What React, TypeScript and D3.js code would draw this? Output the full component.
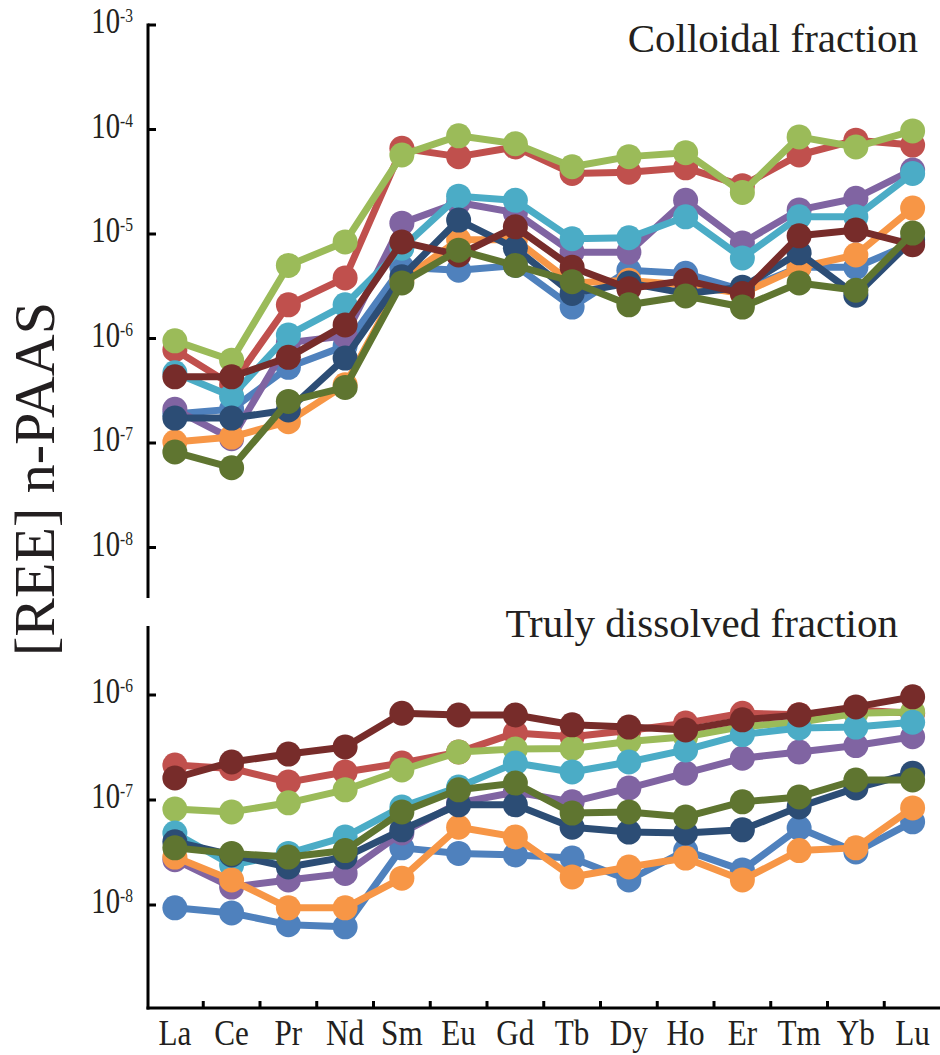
import React from "react";
import * as d3 from "d3";

// rare earth elements on the x axis
const elements = ["La", "Ce", "Pr", "Nd", "Sm", "Eu", "Gd", "Tb", "Dy", "Ho", "Er", "Tm", "Yb", "Lu"];

// colloidal fraction (top panel), PAAS-normalised
const colBlue = [1.9e-7, 2.1e-7, 5.3e-7, 8.5e-7, 4.8e-6, 4.5e-6, 5.0e-6, 2.0e-6, 4.5e-6, 4.2e-6, 2.9e-6, 4.8e-6, 4.8e-6, 8.2e-6];
const colRed = [7.8e-7, 3.6e-7, 2.1e-6, 3.8e-6, 6.6e-5, 5.5e-5, 6.8e-5, 3.8e-5, 3.9e-5, 4.3e-5, 2.9e-5, 5.7e-5, 7.9e-5, 7.1e-5];
const colGreen = [9.5e-7, 6.2e-7, 5.0e-6, 8.4e-6, 5.7e-5, 8.7e-5, 7.3e-5, 4.4e-5, 5.5e-5, 6.0e-5, 2.5e-5, 8.5e-5, 6.8e-5, 9.7e-5];
const colPurple = [2.1e-7, 1.1e-7, 9.1e-7, 1.06e-6, 1.27e-5, 2.0e-5, 1.6e-5, 6.7e-6, 6.7e-6, 2.1e-5, 8.2e-6, 1.7e-5, 2.2e-5, 4.1e-5];
const colCyan = [4.7e-7, 2.8e-7, 1.08e-6, 2.1e-6, 7.3e-6, 2.3e-5, 2.1e-5, 9.0e-6, 9.2e-6, 1.46e-5, 5.9e-6, 1.46e-5, 1.46e-5, 3.8e-5];
const colOrange = [1.02e-7, 1.14e-7, 1.6e-7, 3.6e-7, 3.6e-6, 8.8e-6, 8.8e-6, 3.4e-6, 3.6e-6, 3.25e-6, 2.7e-6, 4.8e-6, 6.3e-6, 1.77e-5];
const colNavy = [1.73e-7, 1.73e-7, 2.07e-7, 6.5e-7, 3.9e-6, 1.36e-5, 7.3e-6, 2.7e-6, 3.4e-6, 2.7e-6, 3.1e-6, 6.6e-6, 2.6e-6, 8.8e-6];
const colDarkRed = [4.3e-7, 4.3e-7, 6.6e-7, 1.35e-6, 8.4e-6, 6.3e-6, 1.17e-5, 4.8e-6, 3.0e-6, 3.6e-6, 2.7e-6, 9.6e-6, 1.09e-5, 7.9e-6];
const colDarkGreen = [8.2e-8, 5.8e-8, 2.5e-7, 3.4e-7, 3.4e-6, 7.0e-6, 5.0e-6, 3.5e-6, 2.1e-6, 2.55e-6, 2.0e-6, 3.4e-6, 2.9e-6, 1.02e-5];

// truly dissolved fraction (bottom panel)
const disBlue = [9.4e-9, 8.4e-9, 6.5e-9, 6.2e-9, 3.5e-8, 3.1e-8, 3.0e-8, 2.8e-8, 1.73e-8, 3.3e-8, 2.15e-8, 5.4e-8, 3.2e-8, 6.2e-8];
const disRed = [2.15e-7, 2.0e-7, 1.48e-7, 1.85e-7, 2.25e-7, 2.86e-7, 4.35e-7, 4.0e-7, 4.6e-7, 5.4e-7, 6.7e-7, 6.5e-7, 7.2e-7, 6.7e-7];
const disGreen = [8.2e-8, 7.7e-8, 9.4e-8, 1.25e-7, 1.93e-7, 2.86e-7, 3.06e-7, 3.1e-7, 3.6e-7, 4.0e-7, 5.0e-7, 5.5e-7, 6.7e-7, 6.9e-7];
const disPurple = [2.7e-8, 1.48e-8, 1.73e-8, 2.0e-8, 4.85e-8, 9.4e-8, 1.19e-7, 9.6e-8, 1.3e-7, 1.8e-7, 2.5e-7, 2.86e-7, 3.3e-7, 4.0e-7];
const disCyan = [4.85e-8, 2.4e-8, 3.1e-8, 4.45e-8, 8.6e-8, 1.33e-7, 2.25e-7, 1.85e-7, 2.3e-7, 3.0e-7, 4.2e-7, 4.85e-7, 4.95e-7, 5.5e-7];
const disOrange = [2.86e-8, 1.73e-8, 9.4e-9, 9.4e-9, 1.8e-8, 5.5e-8, 4.45e-8, 1.85e-8, 2.3e-8, 2.8e-8, 1.73e-8, 3.3e-8, 3.5e-8, 8.4e-8];
const disNavy = [4.0e-8, 3.0e-8, 2.3e-8, 2.86e-8, 5.2e-8, 9.0e-8, 9.0e-8, 5.5e-8, 4.95e-8, 4.85e-8, 5.2e-8, 8.6e-8, 1.3e-7, 1.8e-7];
const disDarkRed = [1.62e-7, 2.3e-7, 2.74e-7, 3.2e-7, 6.7e-7, 6.45e-7, 6.45e-7, 5.2e-7, 4.95e-7, 4.65e-7, 5.8e-7, 6.45e-7, 7.7e-7, 9.6e-7];
const disDarkGreen = [3.5e-8, 3.1e-8, 2.86e-8, 3.3e-8, 7.7e-8, 1.25e-7, 1.45e-7, 7.5e-8, 7.7e-8, 6.9e-8, 9.6e-8, 1.07e-7, 1.55e-7, 1.55e-7];

const colors = ["#4f81bd", "#c0504d", "#9bbb59", "#8064a2", "#4bacc6", "#f79646", "#2c4d75", "#772c2a", "#5f7530"];
const colloidal = [colBlue, colRed, colGreen, colPurple, colCyan, colOrange, colNavy, colDarkRed, colDarkGreen];
const dissolved = [disBlue, disRed, disGreen, disPurple, disCyan, disOrange, disNavy, disDarkRed, disDarkGreen];

const topTicks = [1e-3, 1e-4, 1e-5, 1e-6, 1e-7, 1e-8];
const bottomTicks = [1e-6, 1e-7, 1e-8];

const W = 940, H = 1055;
const ink = "#231f20";
const serif = "'Liberation Serif', 'Times New Roman', serif";

const x = d3.scalePoint<string>().domain(elements).range([146.5, 941]).padding(0.5);
const band = d3.scaleBand<string>().domain(elements).range([146.5, 941]);
const yTop = d3.scaleLog().domain([1e-3, 1e-8]).range([25, 547.5]);
const yBot = d3.scaleLog().domain([1e-6, 1e-8]).range([695, 905]);

const axisX = 148;

function Series({ data, y }: { data: number[][]; y: d3.ScaleLogarithmic<number, number> }) {
  const line = d3.line<number>().x((_, i) => x(elements[i])!).y(d => y(d));
  return (
    <g>
      {data.map((vals, s) => (
        <g key={s}>
          <path d={line(vals)!} fill="none" stroke={colors[s]} strokeWidth={7} strokeLinejoin="round" />
          {vals.map((v, i) => (
            <circle key={i} cx={x(elements[i])} cy={y(v)} r={12.5} fill={colors[s]} />
          ))}
        </g>
      ))}
    </g>
  );
}

function TickLabel({ v, y }: { v: number; y: number }) {
  const exp = Math.round(Math.log10(v));
  return (
    <text transform={`translate(133,${y + 8}) scale(0.82,1)`} textAnchor="end" fontFamily={serif} fontSize={35} fill={ink}>
      10<tspan fontSize={19} dy={-11}>{exp}</tspan>
    </text>
  );
}

export default function App() {
  return (
    <svg width={W} height={H} style={{ position: "absolute", left: 0, top: 0, background: "#fff" }}>
      {/* top panel axis */}
      <line x1={axisX} x2={axisX} y1={yTop(1e-3) - 1.5} y2={598} stroke="#000" strokeWidth={3} />
      {topTicks.map(t => (
        <g key={t}>
          <line x1={axisX} x2={axisX + 8} y1={yTop(t)} y2={yTop(t)} stroke="#000" strokeWidth={3} />
          <TickLabel v={t} y={yTop(t)} />
        </g>
      ))}

      {/* bottom panel axes */}
      <line x1={axisX} x2={axisX} y1={626} y2={1009.5} stroke="#000" strokeWidth={3} />
      <line x1={axisX - 1.5} x2={W} y1={1008} y2={1008} stroke="#000" strokeWidth={3} />
      {bottomTicks.map(t => (
        <g key={t}>
          <line x1={axisX} x2={axisX + 8} y1={yBot(t)} y2={yBot(t)} stroke="#000" strokeWidth={3} />
          <TickLabel v={t} y={yBot(t)} />
        </g>
      ))}
      {elements.slice(1).map(e => (
        <line key={e} x1={band(e)} x2={band(e)} y1={1008} y2={1001} stroke="#000" strokeWidth={3} />
      ))}
      {elements.map(e => (
        <text key={e} transform={`translate(${x(e)},1045) scale(0.89,1)`} textAnchor="middle" fontFamily={serif} fontSize={35} fill={ink}>
          {e}
        </text>
      ))}

      <Series data={colloidal} y={yTop} />
      <Series data={dissolved} y={yBot} />

      <text x={918} y={52} textAnchor="end" fontFamily={serif} fontSize={41} fill={ink}>Colloidal fraction</text>
      <text x={898} y={637} textAnchor="end" fontFamily={serif} fontSize={41} fill={ink}>Truly dissolved fraction</text>

      <text transform="translate(54,479) rotate(-90)" textAnchor="middle" fontFamily={serif} fontSize={58} fill={ink}>
        [REE] n-PAAS
      </text>
    </svg>
  );
}
